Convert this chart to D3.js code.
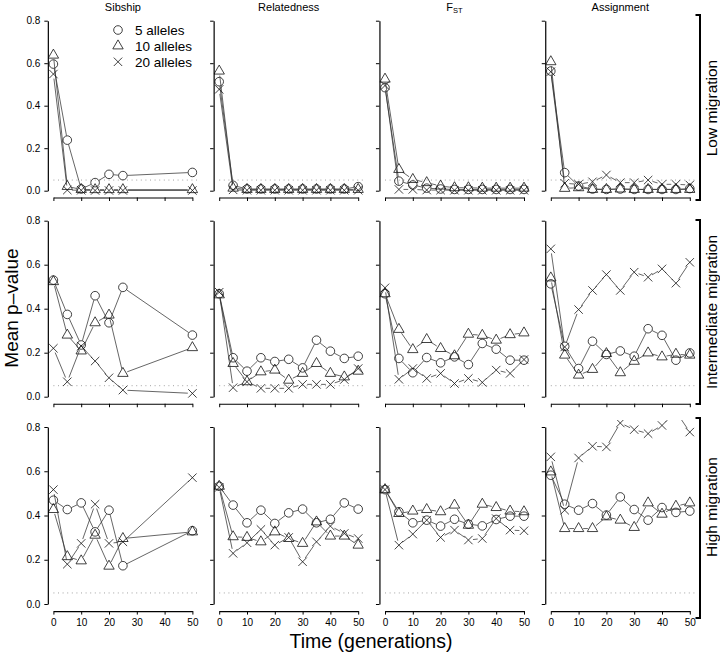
<!DOCTYPE html>
<html><head><meta charset="utf-8">
<script src="https://cdn.jsdelivr.net/npm/d3@7"></script>
<style>
body{margin:0;background:#fff}
svg{display:block}
text{font-family:"Liberation Sans",Arial,Helvetica,sans-serif;fill:#000}
</style>
</head><body>
<svg id="chart" width="720" height="653"></svg>
<script>
// ---------- data ----------
const timesSib = [0,5,10,15,20,25,50];
const timesAll = [0,5,10,15,20,25,30,35,40,45,50];
const methods = ["Sibship","Relatedness","FST","Assignment"];
const migrations = ["Low migration","Intermediate migration","High migration"];
const alleleLabels = ["5 alleles","10 alleles","20 alleles"];
const yTickValues = [0,0.2,0.4,0.6,0.8];
const xTickValues = [0,10,20,30,40,50];
const threshold = 0.05;

// Low migration
const lowSib5  = [0.596,0.238,0.008,0.038,0.077,0.071,0.086];
const lowSib10 = [0.638,0.020,0.006,0.005,0.005,0.005,0.005];
const lowSib20 = [0.549,0.003,0.002,0.001,0.001,0.001,0.001];
const lowRel5  = [0.513,0.025,0.008,0.008,0.008,0.008,0.008,0.008,0.008,0.008,0.019];
const lowRel10 = [0.563,0.012,0.006,0.006,0.006,0.006,0.006,0.006,0.006,0.006,0.006];
const lowRel20 = [0.477,0.004,0.002,0.002,0.002,0.002,0.002,0.002,0.002,0.002,0.002];
const lowFst5  = [0.485,0.045,0.027,0.012,0.008,0.006,0.006,0.006,0.006,0.006,0.006];
const lowFst10 = [0.525,0.100,0.053,0.038,0.022,0.014,0.014,0.012,0.012,0.012,0.012];
const lowFst20 = [0.495,0.006,0.006,0.003,0.003,0.002,0.002,0.002,0.002,0.002,0.002];
const lowAsg5  = [0.563,0.085,0.022,0.008,0.006,0.008,0.006,0.006,0.006,0.006,0.010];
const lowAsg10 = [0.607,0.011,0.014,0.006,0.006,0.008,0.006,0.006,0.006,0.006,0.006];
const lowAsg20 = [0.560,0.035,0.030,0.042,0.074,0.038,0.038,0.050,0.030,0.030,0.027];

// Intermediate migration
const midSib5  = [0.530,0.374,0.235,0.459,0.336,0.497,0.280];
const midSib10 = [0.523,0.280,0.208,0.336,0.371,0.106,0.223];
const midSib20 = [0.220,0.068,0.230,0.162,0.086,0.030,0.015];
const midRel5  = [0.468,0.177,0.116,0.177,0.160,0.170,0.131,0.257,0.207,0.174,0.184];
const midRel10 = [0.463,0.151,0.068,0.113,0.121,0.075,0.106,0.151,0.106,0.090,0.116];
const midRel20 = [0.475,0.041,0.068,0.038,0.038,0.038,0.056,0.056,0.056,0.078,0.128];
const midFst5  = [0.468,0.174,0.109,0.178,0.154,0.181,0.146,0.242,0.216,0.166,0.166];
const midFst10 = [0.468,0.306,0.214,0.260,0.219,0.186,0.284,0.279,0.257,0.282,0.290];
const midFst20 = [0.495,0.079,0.128,0.083,0.106,0.060,0.083,0.065,0.121,0.106,0.169];
const midAsg5  = [0.513,0.229,0.128,0.252,0.192,0.208,0.184,0.309,0.279,0.166,0.199];
const midAsg10 = [0.540,0.189,0.098,0.124,0.196,0.109,0.161,0.199,0.181,0.193,0.189];
const midAsg20 = [0.672,0.226,0.396,0.483,0.555,0.483,0.566,0.543,0.581,0.516,0.611];

// High migration
const highSib5  = [0.469,0.427,0.457,0.326,0.424,0.173,0.331];
const highSib10 = [0.427,0.214,0.195,0.311,0.171,0.296,0.326];
const highSib20 = [0.517,0.180,0.274,0.451,0.274,0.281,0.571];
const highRel5  = [0.532,0.447,0.367,0.424,0.364,0.412,0.429,0.367,0.383,0.457,0.429];
const highRel10 = [0.532,0.304,0.301,0.281,0.326,0.296,0.274,0.371,0.307,0.307,0.266];
const highRel20 = [0.527,0.229,0.277,0.337,0.266,0.301,0.191,0.281,0.352,0.319,0.296];
const highFst5  = [0.517,0.417,0.367,0.379,0.352,0.383,0.361,0.353,0.382,0.397,0.397];
const highFst10 = [0.517,0.409,0.420,0.427,0.417,0.447,0.356,0.451,0.436,0.420,0.417];
const highFst20 = [0.517,0.266,0.316,0.379,0.301,0.334,0.289,0.296,0.386,0.334,0.331];
const highAsg5  = [0.582,0.451,0.424,0.454,0.402,0.484,0.427,0.379,0.436,0.414,0.420];
const highAsg10 = [0.597,0.341,0.341,0.341,0.394,0.379,0.346,0.457,0.406,0.442,0.457];
const highAsg20 = [0.665,0.424,0.660,0.713,0.710,0.818,0.788,0.770,0.807,0.870,0.777];

const panelData = [
  [[lowSib5,lowSib10,lowSib20],[lowRel5,lowRel10,lowRel20],[lowFst5,lowFst10,lowFst20],[lowAsg5,lowAsg10,lowAsg20]],
  [[midSib5,midSib10,midSib20],[midRel5,midRel10,midRel20],[midFst5,midFst10,midFst20],[midAsg5,midAsg10,midAsg20]],
  [[highSib5,highSib10,highSib20],[highRel5,highRel10,highRel20],[highFst5,highFst10,highFst20],[highAsg5,highAsg10,highAsg20]]
];
const panelTimes = [timesSib, timesAll, timesAll, timesAll];

// ---------- layout ----------
const layout = {
  colX0: 53.4, colStep: 165.8, xSpan: 139,
  rows: [{y0:190.7, y8:20.7}, {y0:396.7, y8:220.7}, {y0:604, y8:427}],
  brackets: [[15,200],[220,404],[418,618]],
  stripLabelY: [108, 312, 507],
  bracketX: 700, stripTextX: 717
};

const svg = d3.select("#chart");
const defs = svg.append("defs");

function symbolPath(kind) {
  const p = d3.path();
  if (kind === 0) { p.moveTo(4.3,0); p.arc(0,0,4.3,0,2*Math.PI); }
  else if (kind === 1) { p.moveTo(0,-6.0); p.lineTo(5.2,3.0); p.lineTo(-5.2,3.0); p.closePath(); }
  else { p.moveTo(-4.2,-4.2); p.lineTo(4.2,4.2); p.moveTo(-4.2,4.2); p.lineTo(4.2,-4.2); }
  return p.toString();
}

const gap = 4.6;
function gappedSegments(pts) {
  const segs = [];
  for (let i = 0; i < pts.length - 1; i++) {
    const [x1,y1] = pts[i], [x2,y2] = pts[i+1];
    const dx = x2-x1, dy = y2-y1, d = Math.hypot(dx,dy);
    if (d <= 2*gap) continue;
    const ux = dx/d, uy = dy/d;
    segs.push([[x1+ux*gap, y1+uy*gap],[x2-ux*gap, y2-uy*gap]]);
  }
  return segs;
}

layout.rows.forEach((row, r) => {
  methods.forEach((m, c) => {
    const x0 = layout.colX0 + c*layout.colStep;
    const x = d3.scaleLinear().domain([0,50]).range([x0, x0+layout.xSpan]);
    const y = d3.scaleLinear().domain([0,0.8]).range([row.y0, row.y8]);
    const left = x(-2), right = x(52), top = y(0.832), bottom = y(-0.032);
    const g = svg.append("g");
    const clipId = `clip-${r}-${c}`;
    defs.append("clipPath").attr("id", clipId).append("rect")
      .attr("x", left).attr("y", top).attr("width", right-left).attr("height", bottom-top);

    // threshold line
    g.append("line")
      .attr("x1", x(0)).attr("x2", x(52)).attr("y1", y(threshold)).attr("y2", y(threshold))
      .attr("stroke", "#999").attr("stroke-width", 0.9).attr("stroke-dasharray", "1,3.6");

    const plot = g.append("g").attr("clip-path", `url(#${clipId})`);
    const times = panelTimes[c];
    panelData[r][c].forEach((vals, k) => {
      const pts = vals.map((v,i) => [x(times[i]), y(v)]);
      gappedSegments(pts).forEach(s => {
        plot.append("line").attr("x1", s[0][0]).attr("y1", s[0][1])
          .attr("x2", s[1][0]).attr("y2", s[1][1])
          .attr("stroke", "#333").attr("stroke-width", 0.75);
      });
      plot.selectAll(null).data(pts).enter().append("path")
        .attr("d", symbolPath(k))
        .attr("transform", d => `translate(${d[0]},${d[1]})`)
        .attr("fill", "none").attr("stroke", "#111").attr("stroke-width", 0.8);
    });

    // y axis
    const yAxis = d3.axisLeft(y).tickValues(yTickValues).tickSize(3.5).tickSizeOuter(0)
      .tickPadding(4).tickFormat(c === 0 ? d3.format(".1f") : () => "");
    const ya = g.append("g").attr("transform", `translate(${left},0)`).call(yAxis);
    // x axis
    const xAxis = d3.axisBottom(x).tickValues(xTickValues).tickSize(3.5).tickSizeOuter(0)
      .tickPadding(4).tickFormat(r === 2 ? d3.format("d") : () => "");
    const xa = g.append("g").attr("transform", `translate(0,${bottom})`).call(xAxis);
    [ya, xa].forEach(a => {
      a.select(".domain").attr("stroke", "#000").attr("stroke-width", 1.2);
      a.selectAll(".tick line").attr("stroke", "#000").attr("stroke-width", 1);
      a.selectAll("text").attr("font-size", 10).attr("font-family", "Liberation Sans, Arial, sans-serif").attr("fill", "#000");
    });

    // titles
    if (r === 0) {
      const t = svg.append("text").attr("x", x(25)).attr("y", 10.5)
        .attr("text-anchor", "middle").attr("font-size", 11);
      if (m === "FST") {
        t.append("tspan").text("F");
        t.append("tspan").attr("font-size", 7.5).attr("dy", 2.5).text("ST");
      } else t.text(m);
    }

    // legend
    if (r === 0 && c === 0) {
      alleleLabels.forEach((lab, k) => {
        const ly = 30 + k*15.9;
        svg.append("path").attr("d", symbolPath(k))
          .attr("transform", `translate(118,${ly})`)
          .attr("fill", "none").attr("stroke", "#111").attr("stroke-width", 0.8);
        svg.append("text").attr("x", 135).attr("y", ly + 4.8)
          .attr("font-size", 13.5).text(lab);
      });
    }
  });

  // right bracket and strip label
  const [b0, b1] = layout.brackets[r];
  const bx = layout.bracketX;
  svg.append("path")
    .attr("d", `M${bx-4.5},${b0}H${bx}V${b1}H${bx-4.5}`)
    .attr("fill", "none").attr("stroke", "#000").attr("stroke-width", 2);
  svg.append("text")
    .attr("transform", `translate(${layout.stripTextX},${layout.stripLabelY[r]}) rotate(-90)`)
    .attr("text-anchor", "middle").attr("font-size", 15.5).text(migrations[r]);
});

// axis titles
svg.append("text")
  .attr("transform", "translate(17.5,308) rotate(-90)")
  .attr("text-anchor", "middle").attr("font-size", 19).text("Mean p\u2013value");
svg.append("text").attr("x", 371).attr("y", 648)
  .attr("text-anchor", "middle").attr("font-size", 19.5).text("Time (generations)");
</script>
</body></html>
